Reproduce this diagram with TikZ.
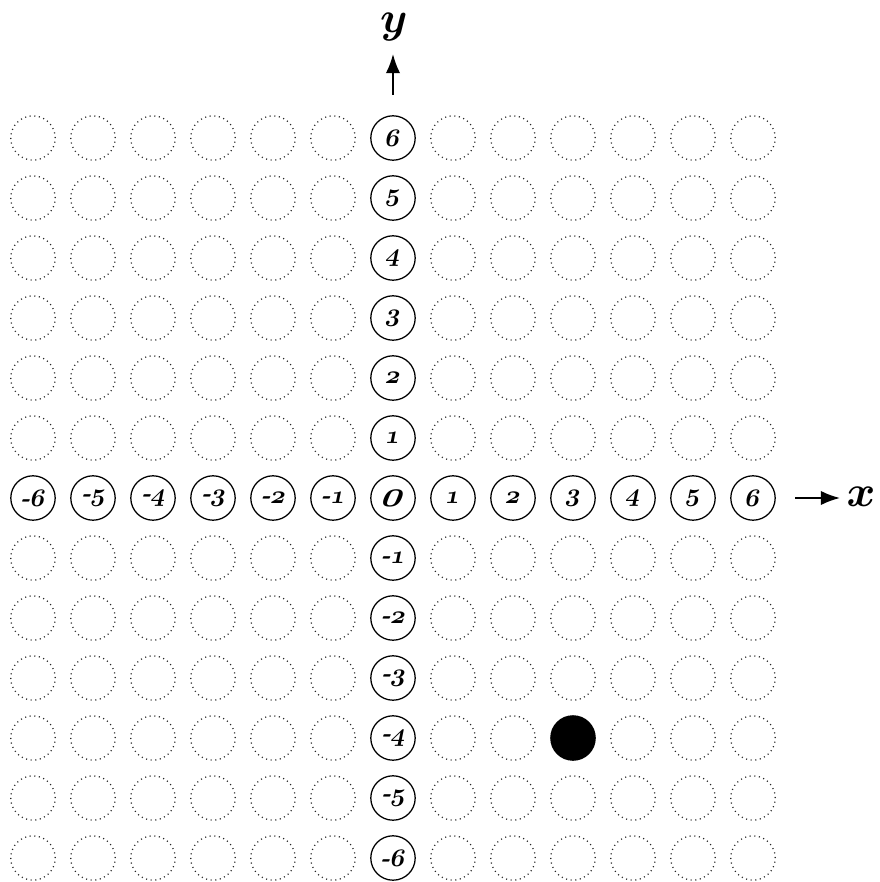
\documentclass[tikz,border=0pt]{standalone}
\usepackage{tikz}
\usetikzlibrary{arrows.meta}

\newcommand\oldbf[1]{{\usefont{OML}{cmm}{b}{it}#1}}
\newcommand\numlab[1]{\ifnum#1<0 {\bfseries\itshape -}\oldbf{\the\numexpr-#1\relax}\else\oldbf{#1}\fi}

\begin{document}
\begin{tikzpicture}[
            x=1cm,
            y=1cm,
            cell/.style={draw=black!85, circle, line width=0.6pt, dash pattern=on 0.5pt off 1.7pt, minimum size=0.74cm, inner sep=0pt},
            blob/.style={fill=black, circle, minimum size=0.76cm, inner sep=0pt},
            axcell/.style={draw, circle, line width=0.6pt, minimum size=0.74cm, inner sep=0pt},
            numtxt/.style={inner sep=0pt, font=\large, xslant=0.2, transform shape},
            axlab/.style={inner sep=0pt, font=\huge},
            axarrow/.style={-{Latex[length=3.2mm,width=2.4mm]}, line width=0.9pt},
          ]
          \useasboundingbox (-6.55,-6.4) rectangle (8.1,8.3);
          % off-axis cells
          \foreach \i in {-6,...,-1,1,2,...,6} {
            \foreach \j in {-6,...,-1,1,2,...,6} {
              \ifnum\i=3 \ifnum\j=-4 \def\st{blob}\else\def\st{cell}\fi\else\def\st{cell}\fi
              \node[\st] (c\i/\j) at (\i,\j) {};
            }
          }
          % axes
          \node[axcell] (o) at (0,0) {};
          \begin{scope}[shift={(o)}, xslant=0.2]
            \node[numtxt, font=\LARGE] (olab) {\oldbf{0}};
          \end{scope}
          \foreach \i in {-6,...,-1,1,2,...,6} {
            \node[axcell] (ax\i) at (\i,0) {};
            \node[axcell] (ay\i) at (0,\i) {};
            \begin{scope}[shift={(ax\i)}]
              \node[numtxt] (axlab\i) {\numlab{\i}};
            \end{scope}
            \begin{scope}[shift={(ay\i)}]
              \node[numtxt] (aylab\i) {\numlab{\i}};
            \end{scope}
          }
          \coordinate (ytail) at (0,6.72);
          \coordinate (yhead) at (0,7.4);
          \coordinate (xtail) at (6.7,0);
          \coordinate (xhead) at (7.45,0);
          \draw[axarrow] (ytail) -- (yhead);
          \draw[axarrow] (xtail) -- (xhead);
          \node[axlab] (ylab) at (0,7.85) {\oldbf{y}};
          \node[axlab] (xlab) at (7.8,0.02) {\oldbf{x}};
        \end{tikzpicture}
\end{document}
